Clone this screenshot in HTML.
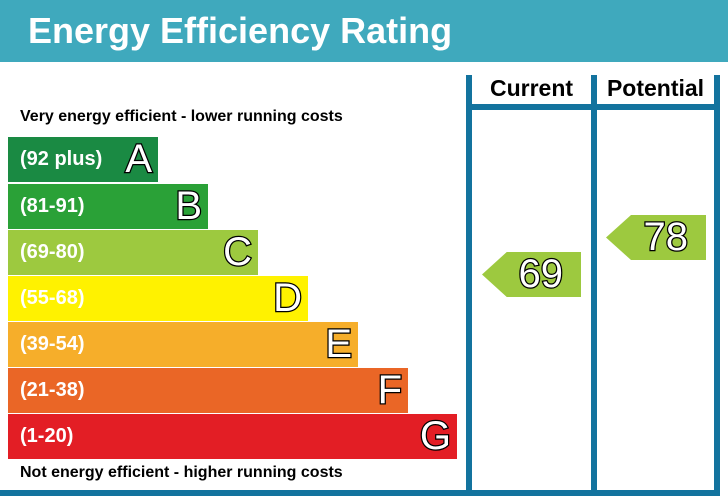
<!DOCTYPE html>
<html><head><style>
body{margin:0;width:728px;height:503px;background:#fff;position:relative;overflow:hidden;font-family:"Liberation Sans",sans-serif}
div{position:absolute}
.bar{left:8px;height:45px;color:#fff;font-weight:bold;font-size:20px;line-height:45px;padding-left:12px;box-sizing:border-box}
.L{position:absolute;right:6px;top:0;font-size:40px;font-weight:normal;color:#fff;-webkit-text-stroke:2.5px #000;paint-order:stroke fill;line-height:45px}
.v{background:#13739e;width:6px}
.arr{height:45px;background:#9dc93f;clip-path:polygon(0 50%,25% 0,100% 0,100% 100%,25% 100%);color:#fff;font-size:40px;-webkit-text-stroke:2.5px #000;paint-order:stroke fill;line-height:45px;text-align:right;box-sizing:border-box;padding-right:18px}
</style></head><body>
<div style="left:0;top:0;width:728px;height:62px;background:#3fa9bd"></div>
<div style="left:28px;top:10px;color:#fff;font-size:36px;font-weight:bold">Energy Efficiency Rating</div>
<div class="v" style="left:466px;top:75px;height:421px"></div>
<div class="v" style="left:591px;top:75px;height:421px"></div>
<div class="v" style="left:714px;top:75px;height:421px"></div>
<div style="left:466px;top:104px;width:254px;height:6px;background:#13739e"></div>
<div style="left:0;top:490px;width:720px;height:6px;background:#13739e"></div>
<div style="left:472px;top:75px;width:119px;text-align:center;font-weight:bold;font-size:23px">Current</div>
<div style="left:597px;top:75px;width:117px;text-align:center;font-weight:bold;font-size:23px">Potential</div>
<div style="left:20px;top:108px;font-weight:bold;font-size:16px">Very energy efficient - lower running costs</div>
<div style="left:20px;top:464px;font-weight:bold;font-size:16px">Not energy efficient - higher running costs</div>
<div class="bar" style="top:137px;width:150px;background:#1a8a43">(92 plus)<span class="L">A</span></div>
<div class="bar" style="top:184px;width:200px;background:#2aa137">(81-91)<span class="L">B</span></div>
<div class="bar" style="top:230px;width:250px;background:#9dc93f">(69-80)<span class="L">C</span></div>
<div class="bar" style="top:276px;width:300px;background:#fff200">(55-68)<span class="L">D</span></div>
<div class="bar" style="top:322px;width:350px;background:#f6ae2a">(39-54)<span class="L">E</span></div>
<div class="bar" style="top:368px;width:400px;background:#ea6626">(21-38)<span class="L">F</span></div>
<div class="bar" style="top:414px;width:449px;background:#e31e25">(1-20)<span class="L">G</span></div>
<div class="arr" style="left:482px;top:252px;width:99px">69</div>
<div class="arr" style="left:606px;top:215px;width:100px">78</div>
</body></html>
